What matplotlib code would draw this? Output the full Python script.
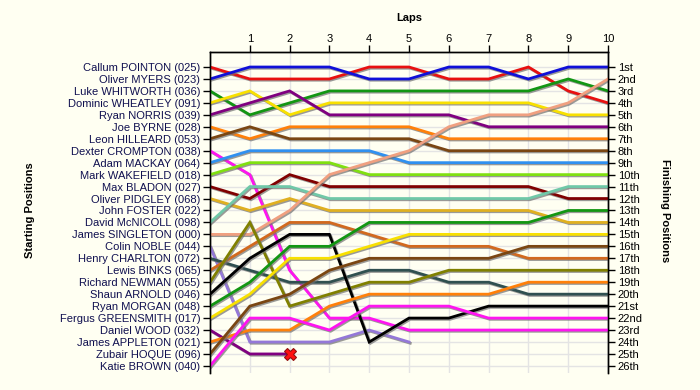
import matplotlib
matplotlib.use("Agg")
import matplotlib.pyplot as plt
import matplotlib.patheffects as pe

drivers = ["Callum POINTON (025)", "Oliver MYERS (023)", "Luke WHITWORTH (036)",
           "Dominic WHEATLEY (091)", "Ryan NORRIS (039)", "Joe BYRNE (028)",
           "Leon HILLEARD (053)", "Dexter CROMPTON (038)", "Adam MACKAY (064)",
           "Mark WAKEFIELD (018)", "Max BLADON (027)", "Oliver PIDGLEY (068)",
           "John FOSTER (022)", "David McNICOLL (098)", "James SINGLETON (000)",
           "Colin NOBLE (044)", "Henry CHARLTON (072)", "Lewis BINKS (065)",
           "Richard NEWMAN (055)", "Shaun ARNOLD (046)", "Ryan MORGAN (048)",
           "Fergus GREENSMITH (017)", "Daniel WOOD (032)", "James APPLETON (021)",
           "Zubair HOQUE (096)", "Katie BROWN (040)"]

finish_labels = ["1st", "2nd", "3rd"] + [f"{i}th" for i in range(4, 21)] + \
                ["21st", "22nd", "23rd", "24th", "25th", "26th"]

laps = list(range(0, 11))

# position of each driver at lap 0..n (list shorter => retired)
positions = {
    "Callum POINTON (025)":    [1, 2, 2, 2, 1, 1, 2, 2, 1, 3, 4],
    "Oliver MYERS (023)":      [2, 1, 1, 1, 2, 2, 1, 1, 2, 1, 1],
    "Luke WHITWORTH (036)":    [3, 5, 4, 3, 3, 3, 3, 3, 3, 2, 3],
    "Dominic WHEATLEY (091)":  [4, 3, 5, 4, 4, 4, 4, 4, 4, 5, 5],
    "Ryan NORRIS (039)":       [5, 4, 3, 5, 5, 5, 5, 6, 6, 6, 6],
    "Joe BYRNE (028)":         [6, 7, 6, 6, 6, 6, 7, 7, 7, 7, 7],
    "Leon HILLEARD (053)":     [7, 6, 7, 7, 7, 7, 8, 8, 8, 8, 8],
    "Dexter CROMPTON (038)":   [8, 10, 18, 22, 22, 23, 23, 23, 23, 23, 23],
    "Adam MACKAY (064)":       [9, 8, 8, 8, 8, 9, 9, 9, 9, 9, 9],
    "Mark WAKEFIELD (018)":    [10, 9, 9, 9, 10, 10, 10, 10, 10, 10, 10],
    "Max BLADON (027)":        [11, 12, 10, 11, 11, 11, 11, 11, 11, 12, 12],
    "Oliver PIDGLEY (068)":    [12, 13, 12, 13, 13, 13, 13, 13, 13, 14, 14],
    "John FOSTER (022)":       [],
    "David McNICOLL (098)":    [14, 11, 11, 12, 12, 12, 12, 12, 12, 11, 11],
    "James SINGLETON (000)":   [15, 15, 13, 10, 9, 8, 6, 5, 5, 4, 2],
    "Colin NOBLE (044)":       [16, 24, 24, 24, 23, 24],
    "Henry CHARLTON (072)":    [17, 18, 19, 19, 18, 18, 19, 19, 20, 20, 20],
    "Lewis BINKS (065)":       [18, 16, 14, 14, 15, 16, 16, 16, 17, 17, 17],
    "Richard NEWMAN (055)":    [19, 14, 21, 20, 19, 19, 18, 18, 18, 18, 18],
    "Shaun ARNOLD (046)":      [20, 17, 15, 15, 24, 22, 22, 21, 21, 21, 21],
    "Ryan MORGAN (048)":       [21, 19, 16, 16, 14, 14, 14, 14, 14, 13, 13],
    "Fergus GREENSMITH (017)": [22, 20, 17, 17, 16, 15, 15, 15, 15, 15, 15],
    "Daniel WOOD (032)":       [23, 25, 25],
    "James APPLETON (021)":    [24, 23, 23, 21, 20, 20, 20, 20, 19, 19, 19],
    "Zubair HOQUE (096)":      [25, 21, 20, 18, 17, 17, 17, 17, 16, 16, 16],
    "Katie BROWN (040)":       [26, 22, 22, 23, 21, 21, 21, 22, 22, 22, 22],
}

colors = {
    "Callum POINTON (025)": "#E81010", "Oliver MYERS (023)": "#1010D8",
    "Luke WHITWORTH (036)": "#129612", "Dominic WHEATLEY (091)": "#F8E000",
    "Ryan NORRIS (039)": "#800080", "Joe BYRNE (028)": "#FF800A",
    "Leon HILLEARD (053)": "#7A4612", "Dexter CROMPTON (038)": "#FF14F0",
    "Adam MACKAY (064)": "#3090F0", "Mark WAKEFIELD (018)": "#80E010",
    "Max BLADON (027)": "#800000", "Oliver PIDGLEY (068)": "#E0B020",
    "John FOSTER (022)": "#AAAAAA", "David McNICOLL (098)": "#70C8A8",
    "James SINGLETON (000)": "#F0A080", "Colin NOBLE (044)": "#9478D8",
    "Henry CHARLTON (072)": "#305050", "Lewis BINKS (065)": "#D2691E",
    "Richard NEWMAN (055)": "#808000", "Shaun ARNOLD (046)": "#000000",
    "Ryan MORGAN (048)": "#129612", "Fergus GREENSMITH (017)": "#F8E000",
    "Daniel WOOD (032)": "#800080", "James APPLETON (021)": "#FF800A",
    "Zubair HOQUE (096)": "#7A4612", "Katie BROWN (040)": "#FF14F0",
}

crashed = ["Daniel WOOD (032)"]

bg = "#FFFFF2"
plt.rcParams['font.family'] = ['Liberation Sans', 'DejaVu Sans']

fig = plt.figure(figsize=(7, 3.9), dpi=100, facecolor=bg)
ax = fig.add_axes([0.3, 0.044, 0.5686, 0.8226])
ax.set_facecolor(bg)

n = len(drivers)
ax.set_xlim(0, 10)
ax.set_ylim(26.58, -0.254)

for p in range(1, n + 1):
    ax.axhline(p, color="#E4E4E4", lw=1, zorder=1)
for l in laps[1:]:
    ax.axvline(l, color="#E4E4E4", lw=1, zorder=1)

shadow = [pe.SimpleLineShadow(offset=(0.9, -0.9), shadow_color="#707070", alpha=0.7),
          pe.Normal()]
for d in drivers:
    pos = positions[d]
    if not pos:
        continue
    ax.plot(laps[:len(pos)], pos, color=colors[d], lw=2.0, zorder=3,
            solid_joinstyle="miter", path_effects=shadow)
    if d in crashed:
        ax.plot(laps[len(pos) - 1], pos[-1], marker="X", ms=9, mfc="#FF1010",
                mec="#901010", mew=0.8, zorder=5, linestyle="none")

ax.set_yticks(range(1, n + 1))
ax.set_yticklabels(drivers, color="#101050", fontsize=8)
ax.tick_params(axis="y", direction="out", length=5, width=1, pad=2, left=True)

ax.xaxis.set_ticks_position("top")
ax.set_xticks(laps[1:])
ax.set_xticklabels([str(l) for l in laps[1:]], fontsize=8)
ax.tick_params(axis="x", direction="out", length=5, width=1, pad=1)

ax2 = ax.twinx()
ax2.set_ylim(ax.get_ylim())
ax2.set_yticks(range(1, n + 1))
ax2.set_yticklabels(finish_labels, fontsize=8)
ax2.tick_params(axis="y", direction="out", length=5, width=1, pad=2)

for a in (ax, ax2):
    a.spines["bottom"].set_visible(False)
    for s in ("left", "right", "top"):
        a.spines[s].set_linewidth(1)

fig.text(0.584, 0.955, "Laps", ha="center", va="center", fontsize=8, fontweight="bold")
fig.text(0.043, 0.46, "Starting Positions", ha="center", va="center", rotation=90,
         fontsize=8, fontweight="bold")
fig.text(0.95, 0.46, "Finishing Positions", ha="center", va="center", rotation=-90,
         fontsize=8, fontweight="bold")

fig.savefig("out.png", dpi=100, facecolor=bg)
